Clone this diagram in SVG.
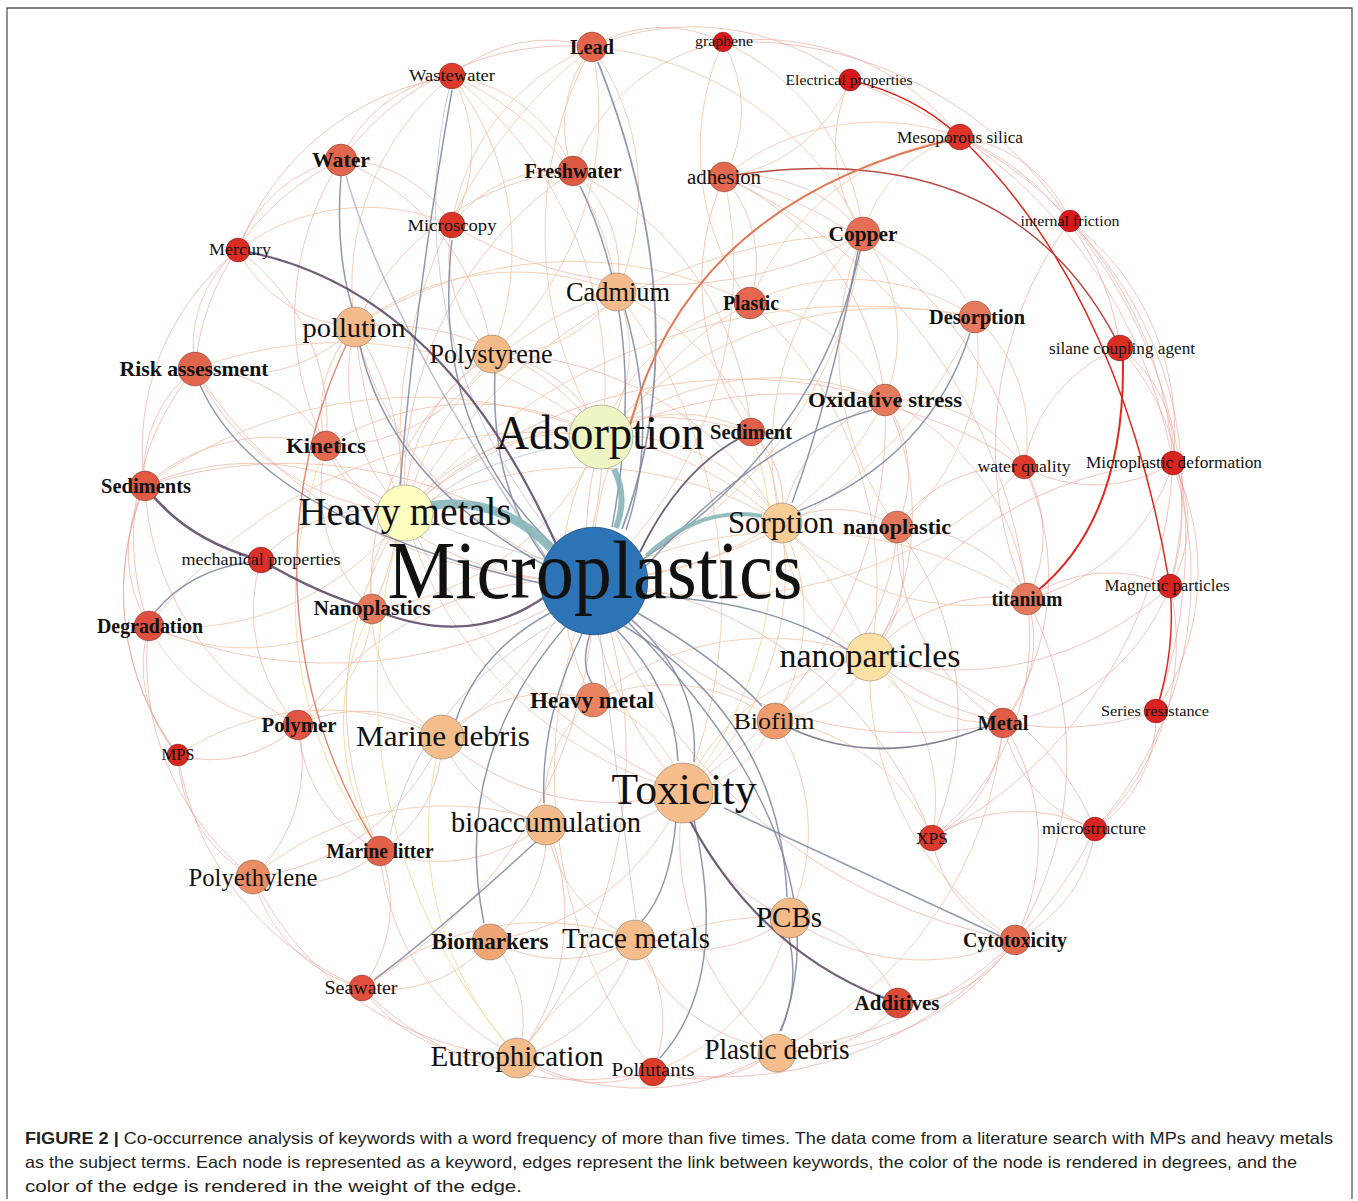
<svg xmlns="http://www.w3.org/2000/svg" width="1358" height="1201" viewBox="0 0 1358 1201">
<style>
.f1{fill:none;stroke:#eeb0a0;stroke-width:1;stroke-opacity:.7}
.f2{fill:none;stroke:#e8958c;stroke-width:1;stroke-opacity:.55}
.f3{fill:none;stroke:#f2c4a2;stroke-width:1;stroke-opacity:.8}
.f4{fill:none;stroke:#f0d890;stroke-width:1;stroke-opacity:.8}
.f5{fill:none;stroke:#b4bccd;stroke-width:1;stroke-opacity:.7}
.f6{fill:none;stroke:#e0705a;stroke-width:1.4;stroke-opacity:.85}
.dp{fill:none;stroke:#5f4b6b;stroke-width:2.2;stroke-opacity:.9}
.gb{fill:none;stroke:#7d869f;stroke-width:1.5;stroke-opacity:.85}
.tl{fill:none;stroke:#86b6b9;stroke-opacity:.9}
.rd{fill:none;stroke:#e0281f;stroke-width:1.5}
.nd{stroke:#000;stroke-opacity:.25;stroke-width:1}
.t{font-family:"Liberation Serif","Times New Roman",serif;fill:#111;text-anchor:middle}
.b{font-weight:bold}
.cap{font-family:"Liberation Sans",Arial,sans-serif;fill:#231f20;font-size:16.5px}
</style>
<rect width="1358" height="1201" fill="#fff"/>
<path d="M7 1199V8H1352V1199" fill="none" stroke="#555" stroke-width="1.3"/>
<g id="edges">
<g class="f1">
<path d="M341 160A140 140 0 0 1 452 76"/><path d="M452 76A145 145 0 0 1 592 47"/><path d="M592 47A135 135 0 0 1 723 42"/><path d="M723 42A255 255 0 0 1 960 137"/><path d="M592 47A260 260 0 0 1 850 80"/><path d="M960 137A140 140 0 0 1 1070 221"/><path d="M1070 221A265 265 0 0 1 1173 463"/><path d="M1173 463A250 250 0 0 1 1156 711"/><path d="M1156 711A135 135 0 0 1 1095 829"/><path d="M1095 829A140 140 0 0 1 1015 940"/><path d="M1015 940A262 262 0 0 1 777 1050"/><path d="M777 1050A126 126 0 0 1 653 1071"/><path d="M653 1071A136 136 0 0 1 518 1057"/><path d="M518 1057A171 171 0 0 1 362 988"/><path d="M362 988A155 155 0 0 1 253 877"/><path d="M253 877A143 143 0 0 1 178 755"/><path d="M178 755A132 132 0 0 1 149 626"/><path d="M149 626A140 140 0 0 1 145 486"/><path d="M145 486A127 127 0 0 1 195 369"/><path d="M195 369A126 126 0 0 1 238 250"/><path d="M238 250A137 137 0 0 1 341 160"/>
<path d="M341 160A129 129 0 0 1 452 225"/><path d="M341 160A286 286 0 0 0 326 446"/><path d="M341 160A246 246 0 0 1 492 354"/><path d="M573 171A129 129 0 0 1 617 292"/><path d="M573 171A268 268 0 0 0 355 327"/><path d="M573 171A381 381 0 0 0 405 513"/><path d="M573 171A316 316 0 0 1 751 432"/><path d="M724 177A129 129 0 0 1 750 303"/><path d="M724 177A150 150 0 0 1 863 234"/><path d="M724 177A275 275 0 0 1 885 400"/><path d="M724 177A256 256 0 0 0 751 432"/><path d="M724 177A520 520 0 0 1 1027 599"/><path d="M724 177A417 417 0 0 1 1024 467"/><path d="M452 225A411 411 0 0 0 863 234"/><path d="M452 225A135 135 0 0 0 492 354"/><path d="M238 250A140 140 0 0 0 355 327"/><path d="M238 250A215 215 0 0 1 326 446"/>
<path d="M355 327A165 165 0 0 1 195 369"/><path d="M355 327A122 122 0 0 0 326 446"/><path d="M355 327A193 193 0 0 0 405 513"/><path d="M355 327A283 283 0 0 1 372 609"/><path d="M355 327A270 270 0 0 1 602 436"/><path d="M355 327A569 569 0 0 0 684 791"/><path d="M492 354A137 137 0 0 1 602 436"/><path d="M492 354A181 181 0 0 0 405 513"/><path d="M492 354A282 282 0 0 0 372 609"/><path d="M492 354A190 190 0 0 1 326 446"/><path d="M492 354A335 335 0 0 1 781 523"/><path d="M195 369A255 255 0 0 0 405 513"/><path d="M195 369A152 152 0 0 1 326 446"/>
<path d="M885 400A161 161 0 0 0 781 523"/><path d="M885 400A257 257 0 0 1 870 657"/><path d="M885 400A128 128 0 0 1 897 527"/><path d="M885 400A440 440 0 0 1 684 791"/><path d="M885 400A154 154 0 0 1 1024 467"/><path d="M885 400A493 493 0 0 0 405 513"/><path d="M885 400A244 244 0 0 1 1027 599"/><path d="M751 432A96 96 0 0 1 781 523"/><path d="M751 432A355 355 0 0 0 405 513"/><path d="M326 446A104 104 0 0 0 405 513"/><path d="M326 446A276 276 0 0 1 602 436"/><path d="M326 446A169 169 0 0 0 372 609"/><path d="M326 446A185 185 0 0 0 145 486"/>
<path d="M145 486A284 284 0 0 0 298 725"/><path d="M145 486A271 271 0 0 0 178 755"/><path d="M145 486A261 261 0 0 1 405 513"/><path d="M897 527A133 133 0 0 1 870 657"/><path d="M897 527A116 116 0 0 0 781 523"/><path d="M897 527A229 229 0 0 1 774 720"/><path d="M261 560A169 169 0 0 0 298 725"/><path d="M261 560A151 151 0 0 1 405 513"/>
<path d="M684 791A142 142 0 0 1 546 823"/><path d="M684 791A164 164 0 0 0 789 917"/><path d="M684 791A275 275 0 0 0 777 1050"/><path d="M684 791A244 244 0 0 1 491 940"/><path d="M684 791A364 364 0 0 1 602 436"/><path d="M546 823A129 129 0 0 1 491 940"/><path d="M546 823A146 146 0 0 0 635 939"/><path d="M546 823A236 236 0 0 1 518 1057"/><path d="M546 823A168 168 0 0 1 380 851"/><path d="M380 851A130 130 0 0 1 253 877"/><path d="M380 851A138 138 0 0 1 362 988"/><path d="M380 851A248 248 0 0 0 518 1057"/><path d="M789 917A156 156 0 0 1 635 939"/><path d="M789 917A227 227 0 0 0 1015 940"/><path d="M491 940A120 120 0 0 1 518 1057"/><path d="M491 940A144 144 0 0 0 635 939"/><path d="M491 940A138 138 0 0 1 362 988"/><path d="M635 939A166 166 0 0 1 518 1057"/><path d="M635 939A180 180 0 0 0 777 1050"/><path d="M635 939A133 133 0 0 1 653 1071"/><path d="M898 1003A130 130 0 0 1 777 1050"/><path d="M898 1003A139 139 0 0 0 789 917"/>
<path d="M594 580A300 300 0 0 1 326 446"/><path d="M594 580A460 460 0 0 0 145 486"/><path d="M594 580A460 460 0 0 1 149 626"/><path d="M594 580A330 330 0 0 0 298 725"/><path d="M594 580A480 480 0 0 1 518 1057"/><path d="M594 580A470 470 0 0 1 362 988"/><path d="M594 580A450 450 0 0 1 195 369"/><path d="M594 580A350 350 0 0 1 355 327"/>
</g>
<g class="f2">
<path d="M341 160A280 280 0 0 1 592 47"/><path d="M723 42A390 390 0 0 1 1070 221"/><path d="M960 137A390 390 0 0 1 1173 463"/><path d="M1070 221A500 500 0 0 1 1156 711"/><path d="M1173 463A375 375 0 0 1 1095 829"/><path d="M1095 829A390 390 0 0 1 777 1050"/><path d="M1015 940A385 385 0 0 1 653 1071"/><path d="M777 1050A260 260 0 0 1 518 1057"/><path d="M653 1071A305 305 0 0 1 362 988"/><path d="M518 1057A320 320 0 0 1 253 877"/><path d="M362 988A300 300 0 0 1 178 755"/><path d="M253 877A272 272 0 0 1 149 626"/><path d="M178 755A271 271 0 0 1 145 486"/><path d="M149 626A261 261 0 0 1 195 369"/><path d="M145 486A254 254 0 0 1 238 250"/><path d="M195 369A255 255 0 0 1 341 160"/><path d="M238 250A276 276 0 0 1 452 76"/>
<path d="M1070 221A378 378 0 0 1 1170 586"/><path d="M1070 221A380 380 0 0 0 1027 599"/><path d="M1120 348A127 127 0 0 1 1173 463"/><path d="M1120 348A153 153 0 0 0 1024 467"/><path d="M1120 348A243 243 0 0 1 1170 586"/><path d="M1024 467A132 132 0 0 1 1027 599"/><path d="M1024 467A257 257 0 0 1 1003 723"/><path d="M1024 467A423 423 0 0 0 602 436"/><path d="M1024 467A140 140 0 0 0 897 527"/><path d="M1173 463A200 200 0 0 1 1027 599"/><path d="M1173 463A123 123 0 0 1 1170 586"/><path d="M1173 463A446 446 0 0 1 932 838"/><path d="M897 527A149 149 0 0 1 1027 599"/><path d="M897 527A313 313 0 0 1 932 838"/><path d="M1027 599A126 126 0 0 1 1003 723"/><path d="M1027 599A257 257 0 0 1 932 838"/><path d="M1027 599A144 144 0 0 1 1170 586"/><path d="M1027 599A167 167 0 0 0 870 657"/><path d="M1027 599A341 341 0 0 1 1015 940"/><path d="M1170 586A216 216 0 0 1 1003 723"/><path d="M1170 586A254 254 0 0 1 1095 829"/><path d="M1170 586A308 308 0 0 1 870 657"/>
<path d="M1003 723A135 135 0 0 1 932 838"/><path d="M1003 723A217 217 0 0 1 1015 940"/><path d="M1003 723A140 140 0 0 0 1095 829"/><path d="M1003 723A223 223 0 0 1 897 527"/><path d="M298 725A124 124 0 0 1 178 755"/><path d="M298 725A144 144 0 0 1 442 737"/><path d="M298 725A150 150 0 0 0 380 851"/><path d="M298 725A158 158 0 0 1 253 877"/><path d="M442 737A130 130 0 0 1 380 851"/><path d="M442 737A235 235 0 0 1 253 877"/><path d="M442 737A135 135 0 0 0 546 823"/><path d="M442 737A248 248 0 0 0 684 791"/><path d="M442 737A341 341 0 0 0 602 436"/><path d="M932 838A132 132 0 0 0 1015 940"/><path d="M932 838A163 163 0 0 1 1095 829"/><path d="M1015 940A133 133 0 0 1 898 1003"/>
<path d="M1095 829A283 283 0 0 0 870 657"/><path d="M1156 711A291 291 0 0 1 870 657"/><path d="M1173 463A360 360 0 0 0 870 657"/><path d="M1173 463A149 149 0 0 1 1024 467"/><path d="M594 580A400 400 0 0 1 932 838"/><path d="M594 580A410 410 0 0 0 1003 723"/><path d="M594 580A550 550 0 0 0 1015 940"/><path d="M850 80A500 500 0 0 1 1173 463"/><path d="M960 137A265 265 0 0 1 1120 348"/>
</g>
<g class="f3">
<path d="M592 47A246 246 0 0 1 617 292"/><path d="M592 47A125 125 0 0 0 573 171"/><path d="M592 47A323 323 0 0 1 492 354"/><path d="M592 47A390 390 0 0 0 602 436"/><path d="M592 47A330 330 0 0 1 863 234"/><path d="M592 47A500 500 0 0 0 405 513"/><path d="M723 42A135 135 0 0 1 724 177"/><path d="M723 42A238 238 0 0 1 863 234"/><path d="M723 42A262 262 0 0 0 750 303"/><path d="M452 76A270 270 0 0 0 355 327"/><path d="M452 76A150 150 0 0 1 452 225"/><path d="M452 76A281 281 0 0 1 492 354"/><path d="M452 76A272 272 0 0 1 617 292"/><path d="M452 76A390 390 0 0 1 602 436"/><path d="M850 80A155 155 0 0 0 863 234"/><path d="M960 137A137 137 0 0 0 863 234"/><path d="M960 137A239 239 0 0 0 724 177"/><path d="M960 137A268 268 0 0 0 750 303"/>
<path d="M863 234A139 139 0 0 1 975 317"/><path d="M863 234A167 167 0 0 1 885 400"/><path d="M863 234A295 295 0 0 0 897 527"/><path d="M863 234A300 300 0 0 0 781 523"/><path d="M863 234A536 536 0 0 0 405 513"/><path d="M617 292A264 264 0 0 0 355 327"/><path d="M617 292A306 306 0 0 0 405 513"/><path d="M617 292A140 140 0 0 1 492 354"/><path d="M617 292A145 145 0 0 1 602 436"/><path d="M617 292A283 283 0 0 1 781 523"/><path d="M617 292A503 503 0 0 1 684 791"/><path d="M750 303A199 199 0 0 0 602 436"/><path d="M750 303A225 225 0 0 1 975 317"/><path d="M750 303A396 396 0 0 0 355 327"/><path d="M750 303A374 374 0 0 1 870 657"/><path d="M750 303A166 166 0 0 1 885 400"/><path d="M975 317A392 392 0 0 0 602 436"/><path d="M975 317A158 158 0 0 1 1024 467"/><path d="M975 317A224 224 0 0 1 897 527"/><path d="M975 317A603 603 0 0 0 405 513"/>
<path d="M372 609A102 102 0 0 1 405 513"/><path d="M372 609A224 224 0 0 1 149 626"/><path d="M372 609A146 146 0 0 0 442 737"/><path d="M372 609A288 288 0 0 0 602 436"/><path d="M372 609A138 138 0 0 1 298 725"/><path d="M149 626A179 179 0 0 0 298 725"/><path d="M149 626A280 280 0 0 0 405 513"/><path d="M870 657A161 161 0 0 1 781 523"/><path d="M870 657A115 115 0 0 1 774 720"/><path d="M870 657A148 148 0 0 0 1003 723"/><path d="M870 657A229 229 0 0 0 684 791"/><path d="M870 657A191 191 0 0 1 932 838"/><path d="M870 657A318 318 0 0 0 1015 940"/><path d="M870 657A280 280 0 0 0 593 700"/><path d="M593 700A155 155 0 0 0 442 737"/><path d="M593 700A129 129 0 0 1 684 791"/><path d="M593 700A132 132 0 0 0 546 823"/><path d="M593 700A182 182 0 0 1 774 720"/><path d="M593 700A264 264 0 0 1 602 436"/><path d="M774 720A115 115 0 0 1 684 791"/><path d="M774 720A198 198 0 0 1 789 917"/><path d="M774 720A197 197 0 0 0 781 523"/><path d="M774 720A197 197 0 0 1 932 838"/>
<path d="M602 436A199 199 0 0 1 781 523"/><path d="M602 436A211 211 0 0 0 405 513"/><path d="M602 436A149 149 0 0 1 751 432"/><path d="M602 436A285 285 0 0 1 885 400"/><path d="M602 436A347 347 0 0 1 870 657"/><path d="M405 513A394 394 0 0 0 684 791"/><path d="M405 513A376 376 0 0 1 781 523"/><path d="M405 513A339 339 0 0 0 380 851"/><path d="M781 523A285 285 0 0 1 684 791"/><path d="M781 523A257 257 0 0 0 1027 599"/><path d="M195 369A412 412 0 0 1 602 436"/><path d="M145 486A460 460 0 0 1 602 436"/><path d="M149 626A491 491 0 0 1 602 436"/><path d="M178 755A265 265 0 0 1 442 737"/><path d="M253 877A298 298 0 0 1 546 823"/><path d="M362 988A277 277 0 0 1 635 939"/><path d="M518 1057A305 305 0 0 1 789 917"/><path d="M653 1071A205 205 0 0 0 789 917"/><path d="M777 1050A397 397 0 0 0 1003 723"/><path d="M850 80A159 159 0 0 1 724 177"/><path d="M723 42A198 198 0 0 0 573 171"/><path d="M592 47A226 226 0 0 0 452 225"/><path d="M452 76A154 154 0 0 1 573 171"/><path d="M452 225A132 132 0 0 1 573 171"/><path d="M238 250A215 215 0 0 1 452 225"/>
<path d="M594 580A435 435 0 0 1 1027 599"/><path d="M594 580A440 440 0 0 0 1024 467"/><path d="M594 580A330 330 0 0 0 885 400"/><path d="M594 580A440 440 0 0 0 975 317"/><path d="M594 580A290 290 0 0 1 750 303"/><path d="M594 580A420 420 0 0 0 724 177"/><path d="M594 580A495 495 0 0 0 653 1071"/><path d="M594 580A420 420 0 0 0 863 234"/>
</g>
<g class="f4">
<path d="M326 446A409 409 0 0 0 380 851"/><path d="M405 513A556 556 0 0 0 518 1057"/><path d="M442 737A329 329 0 0 0 518 1057"/><path d="M372 609A242 242 0 0 0 380 851"/><path d="M751 432A365 365 0 0 1 684 791"/>
</g>
<g class="f5">
<path d="M594 580A520 520 0 0 1 452 76"/><path d="M560 620Q420 700 390 835"/><path d="M600 634Q620 800 636 919"/><path d="M548 560Q470 540 432 522"/><path d="M570 445Q480 460 432 500"/>
</g>
<path class="f6" d="M355 327A525 525 0 0 0 380 851"/>
<g class="gb">
<path d="M200 385Q260 520 544 584"/><path d="M360 346Q390 480 546 566"/><path d="M341 176Q335 250 352 307"/><path d="M346 176Q390 330 548 560" stroke-opacity=".5"/><path d="M452 90Q415 300 400 485"/><path d="M452 240Q430 430 556 548"/><path d="M598 62Q700 320 622 529" stroke-width="1.8"/><path d="M580 186Q650 330 612 527"/><path d="M625 310Q660 430 626 530"/><path d="M495 372Q490 490 548 562"/><path d="M860 251Q820 440 642 560"/><path d="M970 333Q930 460 796 512"/><path d="M872 410Q760 440 646 566"/><path d="M590 634Q580 665 592 683"/><path d="M616 629Q675 690 678 761"/><path d="M632 620Q700 680 694 762"/><path d="M676 820Q670 890 642 921"/><path d="M694 820Q730 980 660 1058"/><path d="M724 808Q880 880 1000 936"/><path d="M624 626Q780 720 787 897"/><path d="M628 622Q850 850 781 1031"/><path d="M566 626Q450 760 484 923"/><path d="M538 840Q440 930 374 980"/><path d="M582 634Q540 720 544 803"/><path d="M552 612Q480 650 456 720"/><path d="M636 612Q720 660 762 706"/><path d="M790 728Q880 770 988 726" stroke="#6d6f85" stroke-width="1.8"/><path d="M646 596Q770 600 848 650"/><path d="M789 937Q800 990 780 1031"/><path d="M155 612Q190 570 250 562"/><path d="M858 251Q830 400 792 503"/>
</g>
<g class="dp">
<path d="M238 250Q440 285 556 544"/><path d="M145 486Q185 540 261 560" stroke-width="2.6"/><path d="M261 560Q320 595 372 609" stroke-width="2.6"/><path d="M372 609Q470 650 546 596"/><path d="M690 821Q760 950 884 998"/><path d="M740 438Q680 470 640 552" stroke-width="1.8"/>
</g>
<g class="tl">
<path d="M428 506Q500 495 551 548" stroke-width="9"/><path d="M614 469Q628 497 616 528" stroke-width="6"/><path d="M762 516Q700 505 646 556" stroke-width="4"/>
</g>
<g class="rd">
<path d="M850 80Q915 95 960 137"/><path d="M960 137Q1120 290 1170 586"/><path d="M1123 360Q1125 520 1036 592" stroke-width="2"/><path d="M1170 586Q1176 650 1156 711"/><path d="M724 177Q1010 130 1119 345" stroke="#b84a42"/><path d="M630 425Q690 200 958 138" stroke="#e07a58" stroke-width="2"/>
</g>
</g>
<g id="nodes">
<g id="n-lead"><circle class="nd" cx="592" cy="47" r="15" fill="#e2654c"/><text class="t b" x="592" y="54" font-size="21" textLength="44" lengthAdjust="spacingAndGlyphs">Lead</text></g>
<g id="n-graphene"><circle class="nd" cx="723" cy="42" r="10" fill="#d7191c"/><text class="t" x="724" y="46" font-size="14" textLength="58" lengthAdjust="spacingAndGlyphs">graphene</text></g>
<g id="n-wastewater"><circle class="nd" cx="452" cy="76" r="13" fill="#dc3a2a"/><text class="t" x="452" y="81" font-size="16" textLength="86" lengthAdjust="spacingAndGlyphs">Wastewater</text></g>
<g id="n-electrical"><circle class="nd" cx="850" cy="80" r="11" fill="#d7191c"/><text class="t" x="849" y="85" font-size="15" textLength="127" lengthAdjust="spacingAndGlyphs">Electrical properties</text></g>
<g id="n-mesoporous"><circle class="nd" cx="960" cy="137" r="13" fill="#dd3226"/><text class="t" x="960" y="143" font-size="17" textLength="126" lengthAdjust="spacingAndGlyphs">Mesoporous silica</text></g>
<g id="n-water"><circle class="nd" cx="341" cy="160" r="16" fill="#e2664d"/><text class="t b" x="341" y="167" font-size="22" textLength="58" lengthAdjust="spacingAndGlyphs">Water</text></g>
<g id="n-freshwater"><circle class="nd" cx="573" cy="171" r="15" fill="#df5843"/><text class="t b" x="573" y="178" font-size="20" textLength="97" lengthAdjust="spacingAndGlyphs">Freshwater</text></g>
<g id="n-adhesion"><circle class="nd" cx="724" cy="177" r="15" fill="#e3684f"/><text class="t" x="724" y="184" font-size="20" textLength="74" lengthAdjust="spacingAndGlyphs">adhesion</text></g>
<g id="n-microscopy"><circle class="nd" cx="452" cy="225" r="13" fill="#da3429"/><text class="t" x="452" y="231" font-size="17" textLength="89" lengthAdjust="spacingAndGlyphs">Microscopy</text></g>
<g id="n-internal"><circle class="nd" cx="1070" cy="221" r="11" fill="#d7191c"/><text class="t" x="1070" y="226" font-size="15" textLength="99" lengthAdjust="spacingAndGlyphs">internal friction</text></g>
<g id="n-mercury"><circle class="nd" cx="238" cy="250" r="12" fill="#d92b24"/><text class="t" x="240" y="255" font-size="16" textLength="62" lengthAdjust="spacingAndGlyphs">Mercury</text></g>
<g id="n-copper"><circle class="nd" cx="863" cy="234" r="17" fill="#e46f55"/><text class="t b" x="863" y="241" font-size="22" textLength="69" lengthAdjust="spacingAndGlyphs">Copper</text></g>
<g id="n-cadmium"><circle class="nd" cx="617" cy="292" r="19" fill="#f4bb8a"/><text class="t" x="618" y="301" font-size="27" textLength="104" lengthAdjust="spacingAndGlyphs">Cadmium</text></g>
<g id="n-plastic"><circle class="nd" cx="750" cy="303" r="16" fill="#e3684f"/><text class="t b" x="751" y="310" font-size="21" textLength="56" lengthAdjust="spacingAndGlyphs">Plastic</text></g>
<g id="n-desorption"><circle class="nd" cx="975" cy="317" r="16" fill="#e67a5e"/><text class="t b" x="977" y="324" font-size="21" textLength="96" lengthAdjust="spacingAndGlyphs">Desorption</text></g>
<g id="n-pollution"><circle class="nd" cx="355" cy="327" r="20" fill="#f4bb8a"/><text class="t" x="354" y="337" font-size="28" textLength="103" lengthAdjust="spacingAndGlyphs">pollution</text></g>
<g id="n-silane"><circle class="nd" cx="1120" cy="348" r="13" fill="#db2d24"/><text class="t" x="1122" y="354" font-size="17" textLength="146" lengthAdjust="spacingAndGlyphs">silane coupling agent</text></g>
<g id="n-polystyrene"><circle class="nd" cx="492" cy="354" r="19" fill="#f4bb8a"/><text class="t" x="491" y="363" font-size="27" textLength="123" lengthAdjust="spacingAndGlyphs">Polystyrene</text></g>
<g id="n-risk"><circle class="nd" cx="195" cy="369" r="17" fill="#e1654c"/><text class="t b" x="194" y="376" font-size="22" textLength="149" lengthAdjust="spacingAndGlyphs">Risk assessment</text></g>
<g id="n-oxidative"><circle class="nd" cx="885" cy="400" r="16" fill="#e57a5c"/><text class="t b" x="885" y="407" font-size="22" textLength="154" lengthAdjust="spacingAndGlyphs">Oxidative stress</text></g>
<g id="n-adsorption"><circle class="nd" cx="601" cy="437" r="32" fill="#eef5c2"/><text class="t" x="600" y="449" font-size="48" textLength="209" lengthAdjust="spacingAndGlyphs">Adsorption</text></g>
<g id="n-sediment"><circle class="nd" cx="751" cy="432" r="14" fill="#e15f48"/><text class="t b" x="751" y="439" font-size="20" textLength="82" lengthAdjust="spacingAndGlyphs">Sediment</text></g>
<g id="n-kinetics"><circle class="nd" cx="326" cy="446" r="15" fill="#e4694f"/><text class="t b" x="326" y="453" font-size="21" textLength="80" lengthAdjust="spacingAndGlyphs">Kinetics</text></g>
<g id="n-waterquality"><circle class="nd" cx="1024" cy="467" r="12" fill="#dc3a2a"/><text class="t" x="1024" y="472" font-size="16" textLength="93" lengthAdjust="spacingAndGlyphs">water quality</text></g>
<g id="n-mpdeform"><circle class="nd" cx="1173" cy="463" r="12" fill="#d9231f"/><text class="t" x="1174" y="468" font-size="16" textLength="176" lengthAdjust="spacingAndGlyphs">Microplastic deformation</text></g>
<g id="n-sediments"><circle class="nd" cx="145" cy="486" r="15" fill="#e05a44"/><text class="t b" x="146" y="493" font-size="20" textLength="90" lengthAdjust="spacingAndGlyphs">Sediments</text></g>
<g id="n-heavymetals"><circle class="nd" cx="405" cy="513" r="28" fill="#fefebf"/><text class="t" x="405" y="525" font-size="40" textLength="213" lengthAdjust="spacingAndGlyphs">Heavy metals</text></g>
<g id="n-sorption"><circle class="nd" cx="782" cy="523" r="20" fill="#f7cd96"/><text class="t" x="781" y="533" font-size="31" textLength="106" lengthAdjust="spacingAndGlyphs">Sorption</text></g>
<g id="n-nanoplastic"><circle class="nd" cx="897" cy="527" r="16" fill="#e6795c"/><text class="t b" x="897" y="534" font-size="22" textLength="108" lengthAdjust="spacingAndGlyphs">nanoplastic</text></g>
<g id="n-mechanical"><circle class="nd" cx="261" cy="560" r="13" fill="#d9302a"/><text class="t" x="261" y="565" font-size="16" textLength="159" lengthAdjust="spacingAndGlyphs">mechanical properties</text></g>
<g id="n-titanium"><circle class="nd" cx="1027" cy="599" r="16" fill="#e6785c"/><text class="t b" x="1027" y="606" font-size="21" textLength="71" lengthAdjust="spacingAndGlyphs">titanium</text></g>
<g id="n-magnetic"><circle class="nd" cx="1170" cy="586" r="12" fill="#d9231f"/><text class="t" x="1167" y="591" font-size="16" textLength="125" lengthAdjust="spacingAndGlyphs">Magnetic particles</text></g>
<g id="n-nanoplastics"><circle class="nd" cx="372" cy="609" r="15" fill="#e67b5c"/><text class="t b" x="372" y="615" font-size="20" textLength="117" lengthAdjust="spacingAndGlyphs">Nanoplastics</text></g>
<g id="n-degradation"><circle class="nd" cx="149" cy="626" r="15" fill="#e05040"/><text class="t b" x="150" y="633" font-size="21" textLength="106" lengthAdjust="spacingAndGlyphs">Degradation</text></g>
<g id="n-nanoparticles"><circle class="nd" cx="870" cy="657" r="24" fill="#fae0a2"/><text class="t" x="870" y="667" font-size="33" textLength="181" lengthAdjust="spacingAndGlyphs">nanoparticles</text></g>
<g id="n-heavymetal"><circle class="nd" cx="593" cy="700" r="17" fill="#ea835f"/><text class="t b" x="592" y="708" font-size="24" textLength="124" lengthAdjust="spacingAndGlyphs">Heavy metal</text></g>
<g id="n-biofilm"><circle class="nd" cx="775" cy="721" r="18" fill="#ef9d6e"/><text class="t" x="774" y="729" font-size="24" textLength="81" lengthAdjust="spacingAndGlyphs">Biofilm</text></g>
<g id="n-metal"><circle class="nd" cx="1003" cy="723" r="15" fill="#e25c45"/><text class="t b" x="1003" y="730" font-size="20" textLength="51" lengthAdjust="spacingAndGlyphs">Metal</text></g>
<g id="n-series"><circle class="nd" cx="1156" cy="711" r="12" fill="#d9231f"/><text class="t" x="1155" y="716" font-size="15" textLength="108" lengthAdjust="spacingAndGlyphs">Series resistance</text></g>
<g id="n-polymer"><circle class="nd" cx="298" cy="725" r="15" fill="#e05642"/><text class="t b" x="299" y="732" font-size="20" textLength="75" lengthAdjust="spacingAndGlyphs">Polymer</text></g>
<g id="n-marinedebris"><circle class="nd" cx="442" cy="737" r="22" fill="#f4be8c"/><text class="t" x="443" y="746" font-size="30" textLength="174" lengthAdjust="spacingAndGlyphs">Marine debris</text></g>
<g id="n-mps"><circle class="nd" cx="178" cy="755" r="11" fill="#d8261f"/><text class="t" x="178" y="760" font-size="16" textLength="33" lengthAdjust="spacingAndGlyphs">MPS</text></g>
<g id="n-toxicity"><circle class="nd" cx="683" cy="793" r="30" fill="#f4bd8b"/><text class="t" x="684" y="804" font-size="44" textLength="145" lengthAdjust="spacingAndGlyphs">Toxicity</text></g>
<g id="n-bioaccumulation"><circle class="nd" cx="546" cy="825" r="20" fill="#f4bb8a"/><text class="t" x="546" y="832" font-size="30" textLength="190" lengthAdjust="spacingAndGlyphs">bioaccumulation</text></g>
<g id="n-xps"><circle class="nd" cx="932" cy="838" r="13" fill="#de3a2b"/><text class="t" x="932" y="844" font-size="17" textLength="32" lengthAdjust="spacingAndGlyphs">XPS</text></g>
<g id="n-microstructure"><circle class="nd" cx="1095" cy="829" r="12" fill="#d9231f"/><text class="t" x="1094" y="834" font-size="16" textLength="104" lengthAdjust="spacingAndGlyphs">microstructure</text></g>
<g id="n-marinelitter"><circle class="nd" cx="380" cy="851" r="15" fill="#e0614a"/><text class="t b" x="380" y="858" font-size="20" textLength="107" lengthAdjust="spacingAndGlyphs">Marine litter</text></g>
<g id="n-polyethylene"><circle class="nd" cx="253" cy="877" r="17" fill="#eb8d64"/><text class="t" x="253" y="886" font-size="25" textLength="129" lengthAdjust="spacingAndGlyphs">Polyethylene</text></g>
<g id="n-pcbs"><circle class="nd" cx="790" cy="918" r="20" fill="#f4bb8a"/><text class="t" x="789" y="927" font-size="29" textLength="66" lengthAdjust="spacingAndGlyphs">PCBs</text></g>
<g id="n-biomarkers"><circle class="nd" cx="490" cy="942" r="18" fill="#f0a574"/><text class="t b" x="490" y="949" font-size="23" textLength="117" lengthAdjust="spacingAndGlyphs">Biomarkers</text></g>
<g id="n-tracemetals"><circle class="nd" cx="635" cy="940" r="20" fill="#f4bd8b"/><text class="t" x="636" y="948" font-size="29" textLength="148" lengthAdjust="spacingAndGlyphs">Trace metals</text></g>
<g id="n-cytotoxicity"><circle class="nd" cx="1015" cy="940" r="15" fill="#e4694f"/><text class="t b" x="1015" y="947" font-size="21" textLength="104" lengthAdjust="spacingAndGlyphs">Cytotoxicity</text></g>
<g id="n-seawater"><circle class="nd" cx="362" cy="988" r="13" fill="#e0503d"/><text class="t" x="361" y="994" font-size="18" textLength="73" lengthAdjust="spacingAndGlyphs">Seawater</text></g>
<g id="n-additives"><circle class="nd" cx="898" cy="1003" r="15" fill="#dd4a36"/><text class="t b" x="897" y="1010" font-size="21" textLength="85" lengthAdjust="spacingAndGlyphs">Additives</text></g>
<g id="n-eutrophication"><circle class="nd" cx="517" cy="1058" r="20" fill="#f4bd8b"/><text class="t" x="517" y="1066" font-size="30" textLength="173" lengthAdjust="spacingAndGlyphs">Eutrophication</text></g>
<g id="n-pollutants"><circle class="nd" cx="653" cy="1072" r="14" fill="#dd3a2a"/><text class="t" x="653" y="1076" font-size="18" textLength="83" lengthAdjust="spacingAndGlyphs">Pollutants</text></g>
<g id="n-plasticdebris"><circle class="nd" cx="777" cy="1053" r="19" fill="#f4bd8b"/><text class="t" x="777" y="1059" font-size="30" textLength="145" lengthAdjust="spacingAndGlyphs">Plastic debris</text></g>
<g id="n-microplastics"><circle class="nd" cx="594" cy="581" r="54" fill="#2c74b5"/><text class="t" x="595" y="598" font-size="82" textLength="415" lengthAdjust="spacingAndGlyphs">Microplastics</text></g>
</g>
<g id="caption">
<text class="cap" x="25" y="1144" textLength="1308" lengthAdjust="spacingAndGlyphs"><tspan font-weight="bold">FIGURE 2 |</tspan> Co-occurrence analysis of keywords with a word frequency of more than five times. The data come from a literature search with MPs and heavy metals</text>
<text class="cap" x="25" y="1168" textLength="1272" lengthAdjust="spacingAndGlyphs">as the subject terms. Each node is represented as a keyword, edges represent the link between keywords, the color of the node is rendered in degrees, and the</text>
<text class="cap" x="25" y="1192" textLength="497" lengthAdjust="spacingAndGlyphs">color of the edge is rendered in the weight of the edge.</text>
</g>
</svg>
